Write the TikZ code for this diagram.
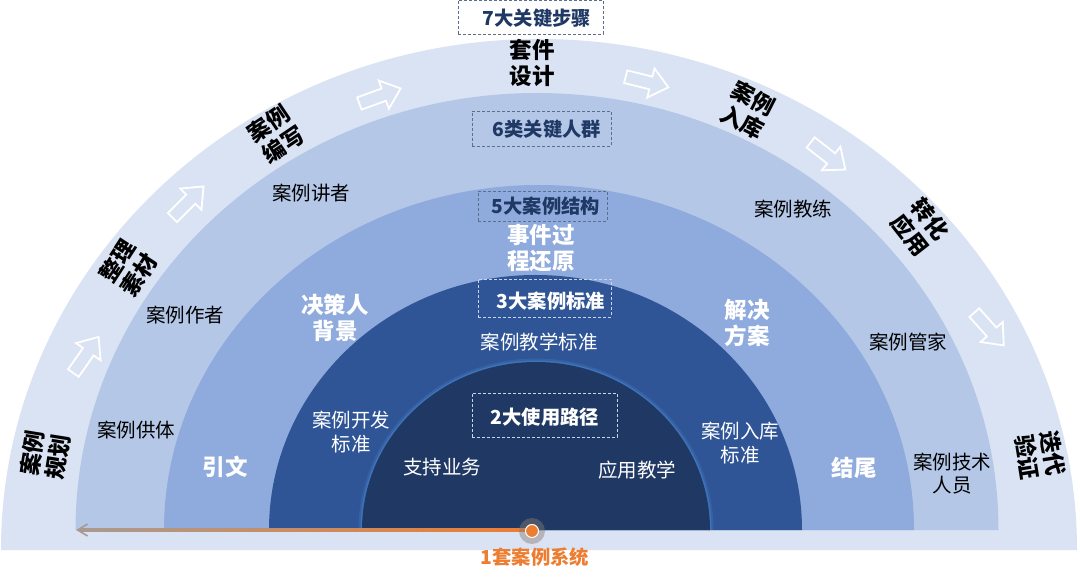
\documentclass[tikz,border=0pt]{standalone}
\usepackage{fontspec}
\setmainfont{Noto Sans CJK SC}
\usetikzlibrary{arrows.meta}
\definecolor{ringA}{HTML}{DAE3F3}
\definecolor{ringB}{HTML}{B4C7E7}
\definecolor{ringC}{HTML}{8FAADC}
\definecolor{ringD}{HTML}{2F5597}
\definecolor{ringE}{HTML}{203864}
\definecolor{navy}{HTML}{1F3864}
\definecolor{boxgray}{HTML}{5B6E8C}
\definecolor{boxlight}{HTML}{C9D5EA}
\definecolor{orng}{HTML}{ED7D31}
\definecolor{arrgray}{HTML}{A89A90}
\definecolor{glowblue}{HTML}{4A86CF}
\tikzset{
  steplbl/.style={font=\fontsize{22.5}{26}\selectfont\bfseries, text=black, align=center, inner sep=0pt},
  plbl/.style={font=\fontsize{19.5}{23}\selectfont, text=black, align=center, inner sep=0pt},
  wbold/.style={font=\fontsize{22.5}{26}\selectfont\bfseries, text=white, align=center, inner sep=0pt},
  wlbl/.style={font=\fontsize{19.5}{24}\selectfont, text=white, align=center, inner sep=0pt},
  dbox/.style={draw=boxgray, dash pattern=on 3pt off 2pt, line width=0.9pt, inner sep=0pt},
  dboxw/.style={draw=boxlight, dash pattern=on 3pt off 2pt, line width=0.9pt, inner sep=0pt},
  boxtxt/.style={font=\fontsize{19.3}{22}\selectfont\bfseries, text=navy, inner sep=0pt},
  boxtxtw/.style={font=\fontsize{19.3}{22}\selectfont\bfseries, text=white, inner sep=0pt},
  hollow/.style={draw=white, line width=1.8pt, fill=ringA, line join=miter},
}
\newcommand\hollowarrow[3]{%
  \draw[hollow, shift={(#1,#2)}, rotate=#3] (-22,-6.5) -- (4,-6.5) -- (4,-15) -- (22,0) -- (4,15) -- (4,6.5) -- (-22,6.5) -- cycle;}
\begin{document}
\begin{tikzpicture}[x=1pt,y=1pt]
\fill[white] (0,0) rectangle (1080,579);
\useasboundingbox (0,0) rectangle (1080,579);
% rings
\fill[ringA] (1,29) arc[start angle=180, end angle=0, x radius=538, y radius=511] -- cycle;
\fill[ringB] (75.5,49) arc[start angle=180, end angle=0, x radius=461.5, y radius=437] -- cycle;
\fill[ringC] (164,49) arc[start angle=180, end angle=0, x radius=375, y radius=345] -- cycle;
\fill[ringD] (269,49) arc[start angle=180, end angle=0, x radius=266.5, y radius=255] -- cycle;
\draw[glowblue, line width=7pt, opacity=0.25] (362,49) arc[start angle=180, end angle=0, x radius=174, y radius=168];
\draw[glowblue, line width=3pt, opacity=0.5] (362,49) arc[start angle=180, end angle=0, x radius=174, y radius=168];
\fill[ringE] (362,49) arc[start angle=180, end angle=0, x radius=174, y radius=168] -- cycle;

% hollow step arrows
\hollowarrow{86}{224}{55}
\hollowarrow{188}{377}{45}
\hollowarrow{380}{483}{20}
\hollowarrow{647}{497}{-14}
\hollowarrow{828}{423}{-38}
\hollowarrow{989}{250}{-48}

% step labels
\node[steplbl, rotate=81] (s1) at (45,124) {案例\\规划};
\node[steplbl, rotate=57] (s2) at (128,311) {整理\\素材};
\node[steplbl, rotate=34] (s3) at (276,445) {案例\\编写};
\node[steplbl] (s4) at (532,516) {套件\\设计};
\node[steplbl, rotate=-27] (s5) at (748,469) {案例\\入库};
\node[steplbl, rotate=-52] (s6) at (920,352) {转化\\应用};
\node[steplbl, rotate=-81] (s7) at (1040,124) {迭代\\验证};

% people ring
\node[plbl] (p1) at (311,386) {案例讲者};
\node[plbl] (p2) at (185,264) {案例作者};
\node[plbl] (p3) at (136,149) {案例供体};
\node[plbl] (p4) at (793,370) {案例教练};
\node[plbl] (p5) at (908,237) {案例管家};
\node[plbl] (p6) at (952,105) {案例技术\\人员};

% structure ring
\node[wbold] (c1) at (541,331) {事件过\\程还原};
\node[wbold] (c2) at (335,261) {决策人\\背景};
\node[wbold] (c3) at (225,112) {引文};
\node[wbold] (c4) at (747,256) {解决\\方案};
\node[wbold] (c5) at (854,111) {结尾};

% standards ring
\node[wlbl] (d1) at (539,237) {案例教学标准};
\node[wlbl] (d2) at (351,147) {案例开发\\标准};
\node[wlbl] (d3) at (740,136) {案例入库\\标准};

% usage ring
\node[wlbl] (u1) at (442,112) {支持业务};
\node[wlbl] (u2) at (637,109) {应用教学};

% dashed title boxes
\node[dbox, minimum width=145pt, minimum height=34pt] (b7) at (530.5,561.5) {};
\node[boxtxt] (t7) at (537,561) {7大关键步骤};
\node[dbox, minimum width=139pt, minimum height=35pt] (b6) at (541.5,450.5) {};
\node[boxtxt] (t6) at (547,450) {6类关键人群};
\node[dbox, minimum width=129pt, minimum height=30pt] (b5) at (542.5,373) {};
\node[boxtxt] (t5) at (546,373) {5大案例结构};
\node[dboxw, minimum width=133pt, minimum height=38pt] (b3) at (544.5,281) {};
\node[boxtxtw] (t3) at (551,278) {3大案例标准};
\node[dboxw, minimum width=145pt, minimum height=44pt] (b2) at (544.5,164) {};
\node[boxtxtw] (t2) at (545,162) {2大使用路径};

% base arrow
\shade[left color=arrgray, right color=orng, middle color=arrgray!50!orng] (80,47.9) rectangle (532,50.1);
\coordinate (arrend) at (76,49);
\coordinate (arrmid) at (96,49);
\draw[arrgray, line width=2pt, -{Straight Barb[length=10pt,width=12pt,line width=1.6pt]}] (arrmid) -- (arrend);

% system dot
\fill[arrgray!80!black, opacity=0.45] (532,48) circle (13);
\node[circle, fill=orng, draw=white, line width=1pt, minimum size=13pt, inner sep=0pt] (sys) at (532,48) {};
\node[font=\fontsize{19.3}{22}\selectfont\bfseries, text=orng, inner sep=0pt] (t1) at (535,22) {1套案例系统};
\end{tikzpicture}
\end{document}
